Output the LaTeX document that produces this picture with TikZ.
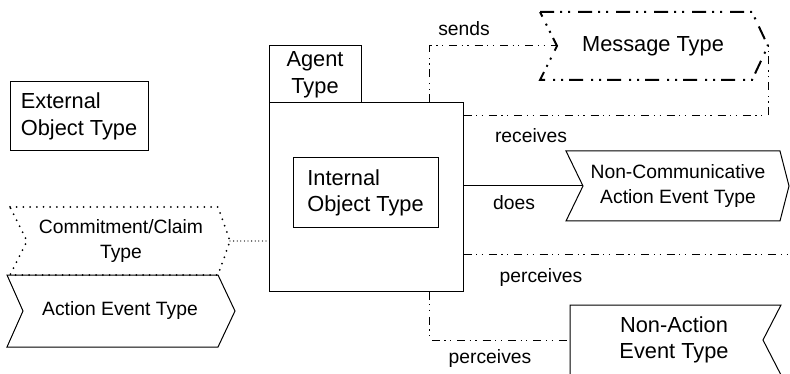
\documentclass[tikz,border=0pt]{standalone}
\usepackage{fontspec}
\setmainfont{Liberation Sans}
\usetikzlibrary{calc}

\tikzset{
  big/.style={font=\fontsize{21.8}{26.7}\selectfont, align=center, inner sep=0pt},
  small/.style={font=\fontsize{19.3}{24.5}\selectfont, align=center, inner sep=0pt},
  box/.style={draw, line width=1pt, inner sep=0pt},
  lbl/.style={small, anchor=base},
  outline/.style={line width=1pt, line join=miter},
  ddot/.style={line width=1pt, dash pattern=on 8pt off 4.5pt on 1.2pt off 4.5pt on 1.2pt off 6pt},
  msgborder/.style={line width=2pt, dash pattern=on 14pt off 6pt on 2pt off 6pt on 2pt off 8pt},
  dotborder/.style={line width=2pt, dash pattern=on 0pt off 6.7pt, line cap=round},
  finedots/.style={line width=1.3pt, dash pattern=on 0pt off 3.6pt, line cap=round},
}

\begin{document}
\begin{tikzpicture}[x=1pt,y=-1pt]
\useasboundingbox (0,0) rectangle (790,374);
\clip (0,0) rectangle (790,374);

% agent type with its name tab and internal object type
\node[box, minimum width=194pt, minimum height=188pt] (agent) at (366,197) {};
\node[box, big, minimum width=92pt, minimum height=57pt] (tab) at (315,74.5) {Agent\\Type};
\node[box, big, align=left, minimum width=145pt, minimum height=70pt] (internal) at (365.5,193) {Internal\\Object Type};

% external object type
\node[box, big, align=left, minimum width=138pt, minimum height=69pt] (external) at (79,116.5) {External\\Object Type};

% message type
\node[big] (msg) at (653,46) {Message Type};
\draw[msgborder] (540,12) -- (752,12) -- (768,46) -- (752,80) -- (540,80) -- (557,46) -- cycle;
\coordinate (msg-in) at (557,46);
\coordinate (msg-tip) at (768,46);

% non-communicative action event type
\node[small] (nca) at (678,186) {Non-Communicative\\Action Event Type};
\draw[outline] (566,151) -- (780,151) -- (789,186) -- (780,221) -- (566,221) -- (583,186) -- cycle;
\coordinate (nca-in) at (583,186);

% non-action event type
\node[big] (nae) at (674,340) {Non-Action\\Event Type};
\draw[outline] (570,305) -- (781,305) -- (763,340) -- (781,375) -- (570,375) -- cycle;
\coordinate (nae-in) at (570,340);

% commitment/claim type over action event type
\node[small] (claim) at (121,241) {Commitment/Claim\\Type};
\draw[dotborder] (10,207) -- (218,207) -- (230,241) -- (218,275) -- (10,275) -- (27,241) -- cycle;
\coordinate (claim-tip) at (230,241);
\node[small] (aev) at (120,311) {Action Event Type};
\draw[outline] (7,275) -- (218,275) -- (235,311) -- (218,347) -- (7,347) -- (23,311) -- cycle;

% connectors
\coordinate (rim) at (790,255);
\draw[ddot] ($(agent.north west)+(161,0)$) |- (msg-in);
\draw[ddot] ($(agent.north east)+(0,13)$) -| (msg-tip);
\draw[line width=1pt] (agent.east |- nca-in) -- (nca-in);
\draw[ddot] (agent.east |- rim) -- (rim);
\draw[ddot] ($(agent.south west)+(161,0)$) |- (nae-in);
\draw[finedots] (claim-tip) -- (claim-tip -| agent.west);

% connector labels
\node[lbl] (l-sends) at (464,36) {sends};
\node[lbl] (l-receives) at (531,143) {receives};
\node[lbl] (l-does) at (514,210) {does};
\node[lbl] (l-perceives-a) at (541,282) {perceives};
\node[lbl] (l-perceives-b) at (490,363) {perceives};
\end{tikzpicture}
\end{document}
